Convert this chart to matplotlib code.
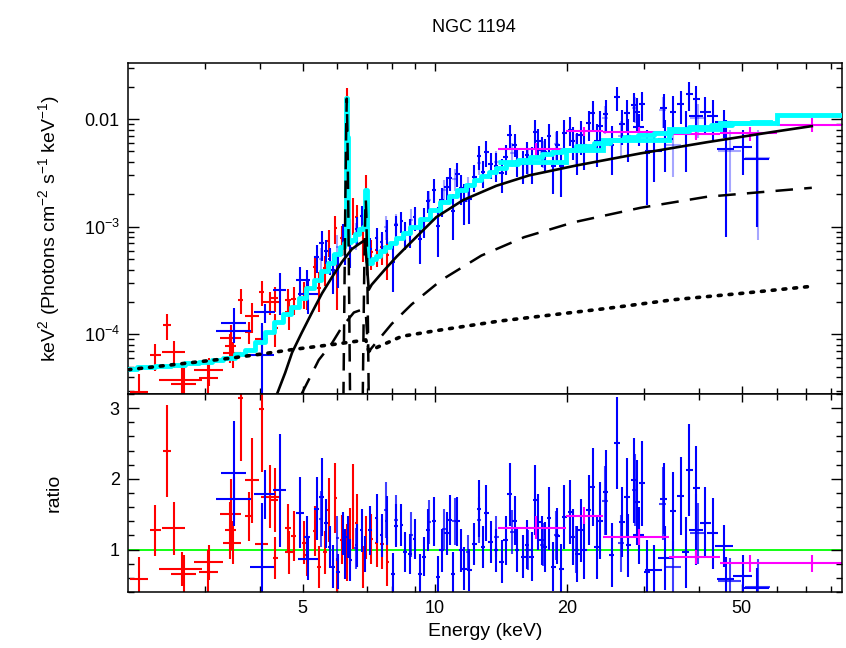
import matplotlib
matplotlib.use("Agg")
import matplotlib.pyplot as plt
from matplotlib.ticker import LogLocator, MultipleLocator, NullFormatter

plt.rcParams["font.family"] = ["Liberation Sans", "DejaVu Sans"]
plt.rcParams["mathtext.fontset"] = "custom"
plt.rcParams["mathtext.rm"] = "Liberation Sans"
plt.rcParams["mathtext.it"] = "Liberation Sans:italic"

# --- low-energy spectrum (red): energy, half width, ratio, ratio err, flux, flux err
xmm_e = [2.12, 2.31, 2.45, 2.54, 2.65, 2.68, 3.06, 3.05, 3.61, 3.43, 3.42, 3.46, 3.77, 3.84,
         4.03, 4.03, 4.22, 4.32, 4.33, 4.62, 4.65, 4.77, 5.03, 5.11, 5.34, 5.44, 5.63, 5.73,
         5.93, 5.99, 6.14, 6.31, 6.41, 6.52, 6.63, 6.86, 6.96, 7.15, 7.37, 7.57, 7.80]
xmm_de = [0.10, 0.07, 0.05, 0.15, 0.30, 0.17, 0.24, 0.15, 0.05, 0.19, 0.10, 0.16, 0.07, 0.14,
          0.06, 0.14, 0.20, 0.08, 0.06, 0.07, 0.10, 0.06, 0.06, 0.06, 0.05, 0.06, 0.06, 0.05,
          0.05, 0.05, 0.05, 0.03, 0.04, 0.04, 0.04, 0.05, 0.04, 0.06, 0.06, 0.07, 0.08]
xmm_ratio = [0.59, 1.27, 2.39, 1.30, 0.72, 0.66, 0.82, 0.69, 3.15, 1.50, 1.27, 1.10, 1.47, 1.98,
             2.99, 1.08, 1.75, 1.70, 0.88, 1.30, 0.96, 1.19, 1.10, 0.93, 1.26, 0.75, 0.96, 1.56,
             1.73, 0.58, 1.14, 0.96, 1.19, 1.61, 1.38, 0.75, 1.17, 1.15, 1.10, 1.08, 0.83]
xmm_rerr = [0.30, 0.36, 0.65, 0.37, 0.24, 0.27, 0.25, 0.30, 0.90, 0.50, 0.40, 0.30, 0.35, 0.60,
            0.90, 0.35, 0.45, 0.45, 0.30, 0.35, 0.30, 0.35, 0.30, 0.30, 0.35, 0.30, 0.30, 0.45,
            0.50, 0.30, 0.35, 0.40, 0.40, 0.60, 0.40, 0.30, 0.30, 0.35, 0.35, 0.35, 0.35]
xmm_flux = [2.9e-5, 6.4e-5, 1.22e-4, 6.8e-5, 3.8e-5, 3.5e-5, 4.7e-5, 3.9e-5, 2.1e-4, 9.2e-5,
            7.8e-5, 6.7e-5, 1.06e-4, 1.49e-4, 2.5e-4, 9.0e-5, 2.0e-4, 2.2e-4, 1.15e-4, 2.1e-4,
            1.6e-4, 2.15e-4, 2.4e-4, 2.5e-4, 4.2e-4, 2.7e-4, 4.1e-4, 7.3e-4, 9.7e-4, 3.5e-4,
            7.8e-4, 1.4e-2, 8.9e-4, 1.34e-3, 1.24e-3, 7.9e-4, 2.6e-3, 5.8e-4, 6.1e-4, 6.5e-4, 5.5e-4]
xmm_ferr = [1.4e-5, 1.8e-5, 3.3e-5, 1.9e-5, 1.3e-5, 1.4e-5, 1.4e-5, 1.7e-5, 5.5e-5, 3.0e-5,
            2.4e-5, 1.8e-5, 2.5e-5, 4.5e-5, 6.5e-5, 3.0e-5, 5.0e-5, 5.8e-5, 3.9e-5, 5.6e-5,
            5.0e-5, 6.3e-5, 6.6e-5, 8.0e-5, 1.2e-4, 1.1e-4, 1.3e-4, 2.1e-4, 2.8e-4, 1.8e-4,
            2.4e-4, 5.5e-3, 3.0e-4, 5.0e-4, 3.6e-4, 3.2e-4, 4.0e-4, 1.8e-4, 1.9e-4, 2.1e-4, 2.3e-4]

# --- hard X-ray spectrum (blue)
fpma_e = [3.49, 3.49, 4.04, 4.10, 4.43, 4.93, 5.11, 5.15, 5.38, 5.52, 5.66, 5.76, 5.86, 6.02,
          6.18, 6.24, 6.33, 6.41, 6.63, 6.81, 6.93, 7.12, 7.37, 7.56, 7.76, 8.03, 8.17, 8.39,
          8.53, 8.76, 8.99, 9.23, 9.47, 9.64, 9.97, 10.18, 10.36, 10.63, 10.8, 11.0, 11.25,
          11.48, 11.68, 11.99, 12.3, 12.6, 12.86, 13.1, 13.4, 13.8, 14.2, 14.5, 14.8, 15.2,
          15.4, 15.9, 16.2, 16.6, 16.9, 17.2, 17.5, 17.8, 18.2, 18.6, 19.0, 19.4, 19.7, 20.3,
          20.6, 21.1, 21.5, 21.9, 22.4, 22.9, 23.4, 23.8, 24.5, 25.3, 26.0, 26.7, 27.4, 27.6,
          28.4, 28.9, 29.1, 29.6, 30.4, 31.5, 33.2, 33.5, 34.9, 36.3, 37.3, 38.0, 39.4, 39.4,
          41.3, 42.9, 45.6, 46.0, 50.3, 54.1]
fpma_de = [0.23, 0.32, 0.25, 0.23, 0.15, 0.10, 0.08, 0.27, 0.08, 0.06, 0.06, 0.05, 0.05, 0.06,
           0.05, 0.04, 0.04, 0.05, 0.06, 0.06, 0.05, 0.06, 0.06, 0.06, 0.07, 0.08, 0.08, 0.08,
           0.09, 0.09, 0.09, 0.10, 0.10, 0.10, 0.11, 0.11, 0.12, 0.12, 0.12, 0.12, 0.13,
           0.13, 0.13, 0.14, 0.14, 0.15, 0.15, 0.15, 0.16, 0.16, 0.17, 0.17, 0.18, 0.18,
           0.18, 0.19, 0.19, 0.20, 0.20, 0.21, 0.21, 0.22, 0.22, 0.23, 0.23, 0.24, 0.25, 0.25,
           0.26, 0.27, 0.28, 0.28, 0.29, 0.30, 0.31, 0.32, 0.33, 0.35, 0.36, 0.37, 0.38, 0.40,
           0.42, 0.43, 0.90, 0.45, 0.50, 1.40, 0.55, 1.30, 0.60, 0.65, 0.70, 0.70, 0.75, 1.50,
           1.20, 1.30, 2.20, 2.00, 2.50, 3.50]
fpma_ratio = [2.08, 1.72, 0.76, 1.78, 1.84, 1.52, 1.18, 0.87, 1.58, 1.74, 1.37, 1.04, 0.76, 0.69,
              1.23, 0.94, 1.18, 0.85, 1.06, 1.27, 0.94, 1.27, 1.44, 1.20, 1.41, 0.65, 1.34, 1.35,
              0.97, 0.94, 1.15, 0.66, 0.90, 1.28, 1.40, 0.61, 0.99, 1.23, 1.42, 0.66, 1.40,
              0.99, 0.73, 0.71, 1.08, 1.58, 1.04, 1.52, 1.11, 0.99, 0.83, 1.13, 1.78, 1.41,
              0.99, 0.90, 1.07, 0.90, 1.70, 1.39, 1.13, 1.04, 1.44, 0.76, 1.19, 0.73, 1.46, 1.53,
              1.18, 0.94, 1.27, 0.99, 1.56, 1.88, 1.04, 1.41, 1.81, 0.92, 2.51, 1.39, 1.74, 1.06,
              1.98, 1.67, 1.20, 1.94, 0.68, 0.71, 1.72, 0.88, 1.54, 1.76, 0.96, 2.13, 1.87, 1.28,
              1.38, 1.23, 1.05, 0.59, 0.62, 0.46]
fpma_rerr = [0.74, 0.30, 0.90, 0.35, 0.80, 0.50, 0.30, 0.30, 0.45, 0.55, 0.35, 0.30, 0.30, 0.25,
             0.30, 0.35, 0.30, 0.30, 0.30, 0.30, 0.25, 0.35, 0.35, 0.30, 0.35, 0.30, 0.30, 0.30,
             0.28, 0.28, 0.28, 0.28, 0.28, 0.30, 0.35, 0.30, 0.30, 0.30, 0.35, 0.30, 0.35,
             0.30, 0.30, 0.30, 0.30, 0.40, 0.30, 0.40, 0.30, 0.30, 0.30, 0.35, 0.45, 0.35,
             0.30, 0.30, 0.35, 0.35, 0.50, 0.40, 0.35, 0.35, 0.45, 0.35, 0.40, 0.35, 0.45, 0.45,
             0.40, 0.40, 0.45, 0.40, 0.50, 0.55, 0.45, 0.55, 0.60, 0.45, 0.65, 0.50, 0.55, 0.45,
             0.60, 0.60, 0.40, 0.60, 0.45, 0.35, 0.50, 0.45, 0.55, 0.55, 0.50, 0.65, 0.60, 0.50,
             0.50, 0.50, 0.30, 0.30, 0.30, 0.28]
fpma_flux = [1.29e-4, 1.07e-4, 6.5e-5, 1.6e-4, 2.6e-4, 3.2e-4, 3.2e-4, 2.35e-4, 5.2e-4, 7.0e-4,
             6.0e-4, 5.0e-4, 4.0e-4, 4.2e-4, 8.5e-4, 7.0e-4, 8.5e-3, 6.4e-4, 9.5e-4, 1.27e-3,
             1.23e-3, 6.2e-4, 7.9e-4, 7.2e-4, 9.2e-4, 4.7e-4, 1.03e-3, 1.13e-3, 8.6e-4, 9.1e-4,
             1.22e-3, 7.7e-4, 1.14e-3, 1.75e-3, 2.2e-3, 1.02e-3, 1.77e-3, 2.34e-3, 2.84e-3,
             1.39e-3, 3.1e-3, 2.3e-3, 1.75e-3, 1.81e-3, 2.9e-3, 4.5e-3, 3.2e-3, 4.9e-3, 3.8e-3,
             3.7e-3, 3.15e-3, 4.4e-3, 7.1e-3, 5.8e-3, 4.1e-3, 3.8e-3, 4.6e-3, 4.0e-3, 7.6e-3,
             6.3e-3, 5.2e-3, 4.9e-3, 6.9e-3, 3.7e-3, 5.8e-3, 3.65e-3, 7.4e-3, 8.0e-3, 6.3e-3,
             5.2e-3, 7.1e-3, 5.7e-3, 9.1e-3, 1.13e-2, 6.3e-3, 8.6e-3, 1.12e-2, 5.8e-3, 1.59e-2,
             9.0e-3, 1.14e-2, 7.0e-3, 1.35e-2, 1.16e-2, 8.4e-3, 1.37e-2, 4.8e-3, 5.1e-3,
             1.27e-2, 6.5e-3, 1.17e-2, 1.37e-2, 7.6e-3, 1.71e-2, 1.54e-2, 1.06e-2, 1.17e-2,
             1.07e-2, 9.4e-3, 5.3e-3, 5.5e-3, 4.3e-3]
fpma_ferr = [4.6e-5, 2.0e-5, 6.2e-5, 3.2e-5, 1.1e-4, 1.0e-4, 8.0e-5, 8.0e-5, 1.5e-4, 2.2e-4,
             1.5e-4, 1.4e-4, 1.6e-4, 1.5e-4, 2.1e-4, 2.6e-4, 2.2e-3, 2.3e-4, 2.7e-4, 3.0e-4,
             3.0e-4, 1.7e-4, 1.9e-4, 1.8e-4, 2.3e-4, 2.2e-4, 2.3e-4, 2.5e-4, 2.5e-4, 2.7e-4,
             3.0e-4, 3.2e-4, 3.5e-4, 4.1e-4, 5.5e-4, 5.0e-4, 5.4e-4, 5.7e-4, 7.0e-4,
             6.3e-4, 7.8e-4, 7.0e-4, 7.2e-4, 7.6e-4, 8.1e-4, 1.1e-3, 9.2e-4, 1.3e-3, 1.0e-3,
             1.1e-3, 1.1e-3, 1.4e-3, 1.8e-3, 1.4e-3, 1.2e-3, 1.3e-3, 1.5e-3, 1.5e-3, 2.2e-3,
             1.8e-3, 1.6e-3, 1.6e-3, 2.1e-3, 1.7e-3, 2.0e-3, 1.75e-3, 2.3e-3, 2.4e-3, 2.1e-3,
             2.2e-3, 2.5e-3, 2.3e-3, 2.9e-3, 3.3e-3, 2.7e-3, 3.4e-3, 3.7e-3, 2.8e-3, 4.1e-3,
             3.2e-3, 3.6e-3, 3.0e-3, 4.1e-3, 4.2e-3, 2.8e-3, 4.2e-3, 3.2e-3, 2.5e-3,
             4.4e-3, 3.3e-3, 4.6e-3, 4.7e-3, 4.4e-3, 5.2e-3, 5.0e-3, 4.1e-3, 4.2e-3,
             4.3e-3, 2.7e-3, 4.5e-3, 2.5e-3, 3.3e-3]

# --- second hard X-ray module (pale blue)
fpmb_e = [5.5, 6.0, 6.6, 7.75, 8.15, 8.83, 9.70, 10.5, 11.1, 11.9, 12.6, 13.8, 15.0, 16.3,
          17.6, 18.9, 21.0, 24.4, 26.5, 28.6, 33.0, 34.8, 39.8, 46.9, 54.4]
fpmb_de = [0.06, 0.06, 0.06, 0.08, 0.09, 0.10, 0.12, 0.13, 0.14, 0.15, 0.16, 0.18, 0.20, 0.22,
           0.24, 0.26, 0.30, 0.36, 0.40, 0.45, 0.55, 1.50, 1.60, 2.80, 3.50]
fpmb_flux = [5.0e-4, 6.5e-4, 8.5e-4, 1.0e-3, 1.05e-3, 1.15e-3, 1.77e-3, 2.2e-3, 2.8e-3, 2.3e-3,
             3.9e-3, 4.0e-3, 4.8e-3, 4.2e-3, 4.9e-3, 5.9e-3, 5.4e-3, 1.03e-2, 7.0e-3, 1.26e-2,
             1.21e-2, 5.7e-3, 1.02e-2, 5.0e-3, 4.35e-3]
fpmb_ferr = [1.4e-4, 1.8e-4, 2.4e-4, 2.5e-4, 2.6e-4, 3.0e-4, 4.0e-4, 5.0e-4, 6.5e-4, 6.0e-4,
             9.0e-4, 1.0e-3, 1.2e-3, 1.2e-3, 1.4e-3, 1.7e-3, 1.8e-3, 3.0e-3, 2.6e-3, 3.5e-3,
             3.8e-3, 2.8e-3, 3.6e-3, 2.9e-3, 3.6e-3]
fpmb_ratio = [1.43, 1.16, 1.02, 1.56, 1.42, 1.21, 1.39, 1.29, 1.40, 0.96, 1.42, 1.18, 1.25, 0.99,
              1.07, 1.20, 1.00, 1.69, 1.09, 1.84, 1.65, 0.75, 1.23, 0.56, 0.47]
fpmb_rerr = [0.40, 0.32, 0.29, 0.39, 0.35, 0.32, 0.31, 0.29, 0.33, 0.25, 0.33, 0.29, 0.31, 0.28,
             0.30, 0.35, 0.33, 0.49, 0.40, 0.51, 0.52, 0.37, 0.43, 0.32, 0.39]

# --- survey spectrum (magenta), bins given by edges
bat_lo = [13.9, 19.9, 24.1, 34.1, 44.7, 60.2]
bat_hi = [19.9, 24.1, 34.1, 44.7, 60.2, 85.0]
bat_e = [17.0, 21.9, 29.1, 39.4, 52.2, 72.3]
bat_flux = [5.3e-3, 7.7e-3, 7.6e-3, 7.3e-3, 7.4e-3, 8.9e-3]
bat_ferr = [7e-4, 8e-4, 8e-4, 9e-4, 1.1e-3, 1.3e-3]
bat_ratio = [1.31, 1.48, 1.18, 0.90, 0.81, 0.81]
bat_rerr = [0.16, 0.12, 0.11, 0.10, 0.12, 0.12]
bat_edges = [13.9, 19.9, 24.1, 34.1, 44.7, 60.2, 85.0]
bat_model = [4.0e-3, 5.2e-3, 6.4e-3, 8.1e-3, 9.1e-3, 1.1e-2]

# --- total model (cyan)
model_e = [2.0, 2.2, 2.4, 2.6, 2.8, 3.0, 3.2, 3.4, 3.6, 3.8, 4.0, 4.2, 4.4, 4.6, 4.8, 5.0,
           5.2, 5.4, 5.6, 5.8, 6.0, 6.15, 6.25, 6.28, 6.30, 6.32, 6.36, 6.5, 6.65, 6.8, 6.9,
           6.96, 7.02, 7.1, 7.25, 7.4, 7.6, 7.8, 8.0, 8.3, 8.6, 9.0, 9.5, 10.0, 10.5, 11.0,
           11.5, 12.0, 12.5, 13.0, 13.5, 14.0, 15.0, 16.0, 17.0, 18.0, 19.0, 20.0, 22.0,
           24.0, 26.0, 28.0, 30.0, 33.0, 36.0, 40.0, 45.0, 50.0, 55.0, 58.0]
model_f = [4.75e-5, 4.95e-5, 5.1e-5, 5.25e-5, 5.4e-5, 5.6e-5, 5.8e-5, 6.0e-5, 6.6e-5, 7.2e-5,
           8.6e-5, 1.05e-4, 1.3e-4, 1.55e-4, 1.8e-4, 2.2e-4, 2.7e-4, 3.2e-4, 3.9e-4, 4.6e-4,
           5.6e-4, 6.5e-4, 7.0e-4, 6.8e-3, 1.57e-2, 6.8e-3, 7.2e-4, 7.6e-4, 8.6e-4, 9.6e-4,
           1.0e-3, 2.2e-3, 4.8e-4, 4.6e-4, 5.0e-4, 5.4e-4, 6.0e-4, 6.5e-4, 7.0e-4, 7.8e-4,
           8.8e-4, 1.0e-3, 1.17e-3, 1.42e-3, 1.7e-3, 1.95e-3, 2.2e-3, 2.45e-3, 2.7e-3, 2.95e-3,
           3.25e-3, 3.5e-3, 3.85e-3, 4.15e-3, 4.45e-3, 4.7e-3, 4.9e-3, 5.15e-3, 5.65e-3,
           6.05e-3, 6.35e-3, 6.75e-3, 7.05e-3, 7.35e-3, 7.75e-3, 8.35e-3, 8.9e-3, 9.2e-3,
           9.3e-3, 9.4e-3]

# --- model components (black)
trans_e = [4.37, 4.56, 4.73, 4.97, 5.25, 5.53, 5.83, 6.14, 6.47, 6.71, 6.93, 7.07, 7.18, 7.69,
           8.19, 9.09, 10.08, 11.6, 13.8, 16.4, 20.95, 29.4, 41.7, 58.9, 72.2]
trans_f = [2.8e-5, 4.4e-5, 6.8e-5, 1.03e-4, 1.6e-4, 2.4e-4, 3.4e-4, 4.7e-4, 6.2e-4, 6.9e-4,
           7.5e-4, 2.6e-4, 2.9e-4, 4.0e-4, 5.3e-4, 8.1e-4, 1.23e-3, 1.77e-3, 2.4e-3, 3.0e-3,
           3.7e-3, 4.8e-3, 6.1e-3, 7.6e-3, 8.6e-3]
refl_e = [4.97, 5.44, 5.83, 6.14, 6.54, 6.82, 6.96, 7.05, 7.18, 7.97, 8.85, 10.35, 12.76,
          15.97, 20.7, 29.4, 41.7, 72.2]
refl_f = [2.8e-5, 5.8e-5, 8.3e-5, 1.17e-4, 1.6e-4, 1.7e-4, 1.6e-4, 6.8e-5, 7.5e-5, 1.25e-4,
          1.9e-4, 3.2e-4, 5.4e-4, 8.0e-4, 1.1e-3, 1.5e-3, 1.9e-3, 2.3e-3]
fe_ka_e = [6.19, 6.22, 6.25, 6.28, 6.30, 6.32, 6.35, 6.38, 6.41]
fe_ka_f = [2.5e-5, 2.0e-4, 1.5e-3, 8.0e-3, 1.55e-2, 8.0e-3, 1.5e-3, 2.0e-4, 2.5e-5]
fe_kb_e = [6.85, 6.88, 6.91, 6.94, 6.96, 6.98, 7.01, 7.04, 7.07]
fe_kb_f = [2.5e-5, 1.2e-4, 5.0e-4, 1.3e-3, 1.8e-3, 1.3e-3, 5.0e-4, 1.2e-4, 2.5e-5]
scat_e = [2.0, 3.4, 4.05, 4.81, 5.9, 6.57, 6.96, 7.07, 7.6, 8.4, 10.0, 14.0, 24.8, 34.9,
          49.6, 72.2]
scat_f = [4.7e-5, 6.0e-5, 6.6e-5, 7.3e-5, 8.1e-5, 8.6e-5, 8.9e-5, 7.0e-5, 8.0e-5, 9.6e-5,
          1.08e-4, 1.33e-4, 1.75e-4, 2.1e-4, 2.4e-4, 2.8e-4]

RED = "#ff0000"
BLUE = "#0000ff"
PALE = (0.0, 0.0, 1.0, 0.35)
MAG = "#ff00ff"
CYAN = "#00ffff"
EW = 1.5

fig = plt.figure(figsize=(8.46, 6.48), dpi=100)
ax = fig.add_axes([0.1513, 0.3920, 0.8440, 0.5113])
axr = fig.add_axes([0.1513, 0.0864, 0.8440, 0.3056])

# top panel: unfolded spectra
bat_xerr = [[c - lo for c, lo in zip(bat_e, bat_lo)], [hi - c for c, hi in zip(bat_e, bat_hi)]]
ax.errorbar(xmm_e, xmm_flux, xerr=xmm_de, yerr=xmm_ferr, fmt="none", ecolor=RED, elinewidth=EW)
ax.errorbar(fpmb_e, fpmb_flux, xerr=fpmb_de, yerr=fpmb_ferr, fmt="none", ecolor=PALE, elinewidth=EW)
ax.errorbar(fpma_e, fpma_flux, xerr=fpma_de, yerr=fpma_ferr, fmt="none", ecolor=BLUE, elinewidth=EW)
ax.errorbar(bat_e, bat_flux, xerr=bat_xerr, yerr=bat_ferr, fmt="none", ecolor=MAG, elinewidth=EW)

ax.plot(model_e, model_f, drawstyle="steps-mid", color=CYAN, lw=3.5, zorder=3)
ax.stairs(bat_model, bat_edges, baseline=None, color=CYAN, lw=3.5, zorder=3)

ax.plot(trans_e, trans_f, color="black", lw=1.9, zorder=4)
dash = (0, (7, 4.5))
ax.plot(refl_e, refl_f, color="black", lw=1.8, ls=dash, zorder=4)
ax.plot(fe_ka_e, fe_ka_f, color="black", lw=1.8, ls=dash, zorder=4)
ax.plot(fe_kb_e, fe_kb_f, color="black", lw=1.8, ls=dash, zorder=4)
ax.plot(scat_e, scat_f, color="black", lw=2.6, ls=(0, (0.8, 2.2)), dash_capstyle="round", zorder=4)

ax.set_xscale("log")
ax.set_yscale("log")
ax.set_xlim(2.0, 84.6)
ax.set_ylim(2.8e-5, 0.0334)
ax.set_yticks([1e-4, 1e-3, 1e-2])
ax.set_yticklabels([r"$10^{-4}$", r"$10^{-3}$", "0.01"])
ax.yaxis.set_minor_locator(LogLocator(base=10, subs=range(2, 10)))
ax.yaxis.set_minor_formatter(NullFormatter())
ax.set_ylabel(r"keV$^{2}$ (Photons cm$^{-2}$ s$^{-1}$ keV$^{-1}$)", fontsize=14)
ax.yaxis.set_label_coords(-0.092, 0.5)
ax.set_title("NGC 1194", fontsize=13, pad=22, x=0.485)

# bottom panel: data / model
axr.axhline(1.0, color="#00ff00", lw=1.3, zorder=1)
axr.errorbar(xmm_e, xmm_ratio, xerr=xmm_de, yerr=xmm_rerr, fmt="none", ecolor=RED, elinewidth=EW)
axr.errorbar(fpmb_e, fpmb_ratio, xerr=fpmb_de, yerr=fpmb_rerr, fmt="none",
             ecolor=(0.0, 0.0, 1.0, 0.75), elinewidth=EW)
axr.errorbar(fpma_e, fpma_ratio, xerr=fpma_de, yerr=fpma_rerr, fmt="none", ecolor=BLUE, elinewidth=EW)
axr.errorbar(bat_e, bat_ratio, xerr=bat_xerr, yerr=bat_rerr, fmt="none", ecolor=MAG, elinewidth=EW)
axr.set_xscale("log")
axr.set_xlim(2.0, 84.6)
axr.set_ylim(0.4, 3.2)
axr.set_yticks([1, 2, 3])
axr.yaxis.set_minor_locator(MultipleLocator(0.2))
axr.set_ylabel("ratio", fontsize=14)
axr.yaxis.set_label_coords(-0.092, 0.5)
axr.set_xlabel("Energy (keV)", fontsize=14)

for a in (ax, axr):
    a.set_xticks([5, 10, 20, 50])
    a.set_xticks([3, 4, 6, 7, 8, 9, 30, 40, 60, 70, 80], minor=True)
    a.xaxis.set_minor_formatter(NullFormatter())
    a.tick_params(which="both", direction="in", top=True, right=True, width=1.0, labelsize=13)
    a.tick_params(axis="y", which="major", length=8, pad=6)
    a.tick_params(axis="y", which="minor", length=4.5)
    a.tick_params(axis="x", which="major", length=6, pad=6)
    a.tick_params(axis="x", which="minor", length=4)
    for s in a.spines.values():
        s.set_linewidth(1.1)

ax.tick_params(axis="x", labelbottom=False)
axr.set_xticklabels(["5", "10", "20", "50"])

fig.savefig("out.png", dpi=100)
